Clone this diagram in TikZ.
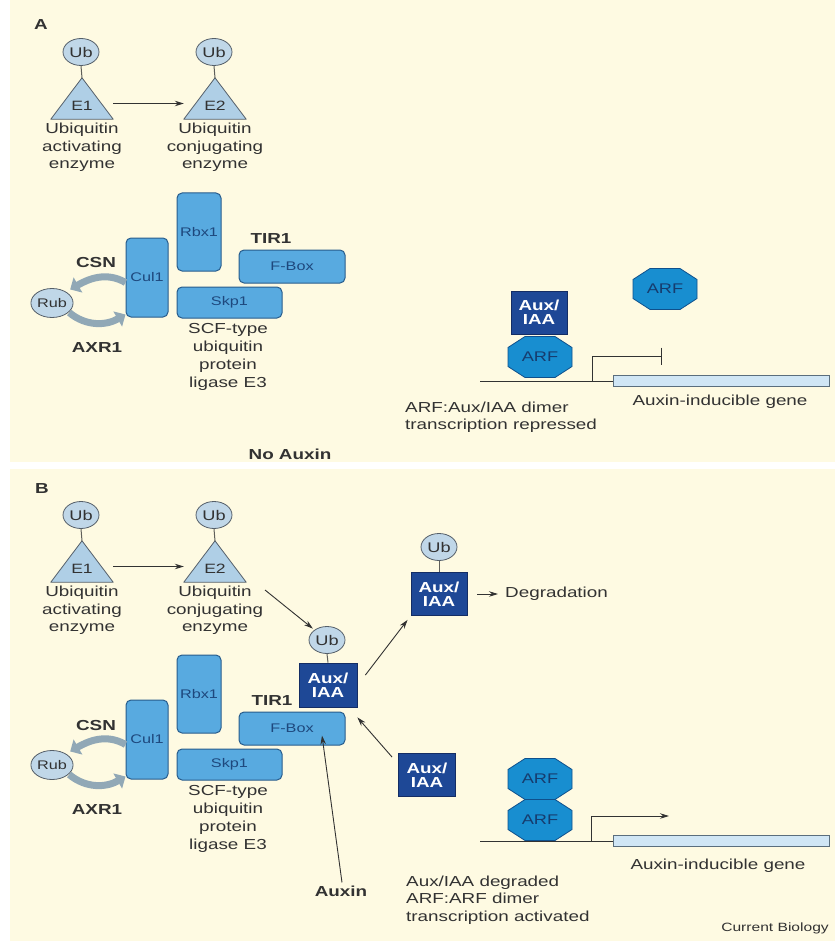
\documentclass[tikz,border=0pt]{standalone}
\usepackage{fontspec}
\setmainfont{Liberation Sans}[FakeStretch=1.3]
\usetikzlibrary{arrows.meta,shapes.geometric}
\definecolor{bg}{RGB}{254,250,226}
\definecolor{txt}{RGB}{50,50,50}
\definecolor{ubfill}{RGB}{192,215,232}
\definecolor{ubline}{RGB}{85,95,105}
\definecolor{trifill}{RGB}{175,207,230}
\definecolor{linkc}{RGB}{95,95,90}
\definecolor{scffill}{RGB}{88,170,224}
\definecolor{scfline}{RGB}{40,92,140}
\definecolor{scftext}{RGB}{30,72,125}
\definecolor{auxfill}{RGB}{30,72,150}
\definecolor{auxline}{RGB}{20,45,100}
\definecolor{arffill}{RGB}{24,142,208}
\definecolor{arfline}{RGB}{15,80,140}
\definecolor{arftextc}{RGB}{22,60,110}
\definecolor{genefill}{RGB}{208,230,245}
\definecolor{geneline}{RGB}{90,110,125}
\definecolor{fatc}{RGB}{145,168,182}
\newcommand{\arfoct}[2]{%
  \draw[arfbody] (#2) ++(-15,20.5) -- ++(30,0) -- ++(17,-11) -- ++(0,-19) -- ++(-17,-11) -- ++(-30,0) -- ++(-17,11) -- ++(0,19) -- cycle;
  \node[arftext] (#1) at (#2) {ARF};}
\tikzset{
 lbl/.style={font=\fontsize{14.5}{17.5}\selectfont, text=txt, align=center, inner sep=1pt},
 blbl/.style={font=\fontsize{14.5}{17.5}\selectfont\bfseries, text=txt, inner sep=1pt},
 ub/.style={ellipse, draw=ubline, fill=ubfill, line width=0.8pt, minimum width=36pt, minimum height=27pt, inner sep=0pt, font=\fontsize{14}{14}\selectfont, text=txt},
 rub/.style={ub, minimum width=35pt, minimum height=29pt, font=\fontsize{12.5}{12.5}\selectfont},
 tri/.style={draw=ubline, fill=trifill, line width=0.8pt, line join=round},
 trilbl/.style={font=\fontsize{13.5}{13.5}\selectfont, text=txt, inner sep=0pt},
 trianchor/.style={minimum width=62pt, minimum height=41pt, inner sep=0pt, draw=none},
 link/.style={draw=linkc, line width=1pt},
 arr/.style={draw=txt, line width=0.9pt, -{Stealth[length=9pt,width=5.5pt]}},
 scf/.style={rectangle, rounded corners=5pt, draw=scfline, fill=scffill, line width=1pt, inner sep=0pt, font=\fontsize{12.5}{12.5}\selectfont, text=scftext},
 aux/.style={rectangle, draw=auxline, fill=auxfill, line width=0.8pt, inner sep=0pt, font=\fontsize{14.5}{14}\selectfont\bfseries, text=white, align=center, minimum width=56pt, minimum height=43pt},
 arfbody/.style={draw=arfline, fill=arffill, line width=0.8pt},
 arftext/.style={font=\fontsize{14}{14}\selectfont, text=arftextc, inner sep=0pt},
 gene/.style={draw=geneline, fill=genefill, line width=0.8pt, inner sep=0pt, minimum width=216pt, minimum height=11pt},
 dna/.style={draw=txt, line width=1pt},
 fat/.style={draw=fatc, line width=7pt, -{Triangle[length=9pt,width=17pt]}},
}
\begin{document}
\begin{tikzpicture}[x=1pt,y=1pt]
\useasboundingbox (0,0) rectangle (835,-941);
\fill[white] (0,0) rectangle (835,-941);
\fill[bg] (10,0) rectangle (835,-462);
\fill[bg] (10,-469) rectangle (835,-941);

% ================= Panel A =================
\node[blbl] (labA) at (41,-25) {A};
\node[trianchor] (triA1) at (82,-98.5) {};
\node[trianchor] (triA2) at (215,-98.5) {};
\draw[tri] (triA1.north) -- (triA1.south east) -- (triA1.south west) -- cycle;
\draw[tri] (triA2.north) -- (triA2.south east) -- (triA2.south west) -- cycle;
\node[trilbl] (e1A) at (82,-106) {E1};
\node[trilbl] (e2A) at (215,-106) {E2};
\node[ub] (ubA1) at (81,-52) {Ub};
\node[ub] (ubA2) at (214,-52) {Ub};
\draw[link] (ubA1.south) -- (triA1.north);
\draw[link] (ubA2.south) -- (triA2.north);
\draw[arr] ([yshift=-5]triA1.east) -- ([yshift=-5]triA2.west);
\node[lbl] (txtA1) at (82,-147.5) {Ubiquitin\\activating\\enzyme};
\node[lbl] (txtA2) at (215,-147.5) {Ubiquitin\\conjugating\\enzyme};

\node[scf, minimum width=44pt, minimum height=78pt] (rbxA) at (199,-232) {Rbx1};
\node[scf, minimum width=42pt, minimum height=79pt] (culA) at (147,-277.5) {Cul1};
\node[scf, minimum width=106pt, minimum height=33pt] (fboxA) at (292,-266.5) {F-Box};
\node[scf, minimum width=105pt, minimum height=31pt] (skpA) at (229.5,-302.5) {Skp1};
\node[blbl] (tirA) at (271,-239) {TIR1};
\node[lbl, font=\fontsize{14.5}{18}\selectfont] (scfA) at (228,-357) {SCF-type\\ubiquitin\\protein\\ligase E3};
\node[blbl] (csnA) at (96,-263) {CSN};
\node[blbl] (axrA) at (97,-348) {AXR1};
\node[rub] (rubA) at (52,-303) {Rub};
\draw[fat] ([yshift=-5]culA.west) to[out=150, in=30] ([shift={(3,3)}]rubA.north east);
\draw[fat] ([shift={(2,1)}]rubA.south east) to[out=-40, in=-150] ([yshift=3]culA.south west);

\node[aux] (auxA) at (539,-312.5) {Aux/\\IAA};
\arfoct{arfA1}{540,-357}
\arfoct{arfA2}{665,-289}
\node[gene] (geneA) at (721,-381) {};
\coordinate (dnaA) at (480,-381);
\coordinate (tssA) at (592,-381);
\coordinate (repA) at (662,-356);
\draw[dna] (dnaA) -- (geneA.west);
\draw[dna, -{Bar[width=17pt]}] (tssA) |- (repA);
\node[lbl] (geneAtxt) at (720,-402) {Auxin-inducible gene};
\node[lbl, align=left, anchor=west] (dimA) at (404,-417) {ARF:Aux/IAA dimer\\transcription repressed};
\node[blbl] (noaux) at (290,-454) {No Auxin};

% ================= Panel B =================
\node[blbl] (labB) at (42,-489) {B};
\node[trianchor] (triB1) at (82,-561.5) {};
\node[trianchor] (triB2) at (215,-561.5) {};
\draw[tri] (triB1.north) -- (triB1.south east) -- (triB1.south west) -- cycle;
\draw[tri] (triB2.north) -- (triB2.south east) -- (triB2.south west) -- cycle;
\node[trilbl] (e1B) at (82,-569) {E1};
\node[trilbl] (e2B) at (215,-569) {E2};
\node[ub] (ubB1) at (81,-515) {Ub};
\node[ub] (ubB2) at (214,-515) {Ub};
\draw[link] (ubB1.south) -- (triB1.north);
\draw[link] (ubB2.south) -- (triB2.north);
\draw[arr] ([yshift=-5]triB1.east) -- ([yshift=-5]triB2.west);
\node[lbl] (txtB1) at (82,-610.5) {Ubiquitin\\activating\\enzyme};
\node[lbl] (txtB2) at (215,-610.5) {Ubiquitin\\conjugating\\enzyme};

\node[scf, minimum width=44pt, minimum height=78pt] (rbxB) at (199,-694) {Rbx1};
\node[scf, minimum width=42pt, minimum height=79pt] (culB) at (147,-739.5) {Cul1};
\node[scf, minimum width=106pt, minimum height=33pt] (fboxB) at (292,-728.5) {F-Box};
\node[scf, minimum width=105pt, minimum height=31pt] (skpB) at (229.5,-764.5) {Skp1};
\node[blbl] (tirB) at (272,-701) {TIR1};
\node[lbl, font=\fontsize{14.5}{18}\selectfont] (scfB) at (228,-819) {SCF-type\\ubiquitin\\protein\\ligase E3};
\node[blbl] (csnB) at (96,-725) {CSN};
\node[blbl] (axrB) at (97,-810) {AXR1};
\node[rub] (rubB) at (52,-765) {Rub};
\draw[fat] ([yshift=-5]culB.west) to[out=150, in=30] ([shift={(3,3)}]rubB.north east);
\draw[fat] ([shift={(2,1)}]rubB.south east) to[out=-40, in=-150] ([yshift=3]culB.south west);

% bound Aux/IAA
\node[ub] (ubB3) at (327,-640) {Ub};
\node[aux, minimum width=58pt, minimum height=44pt] (auxB1) at (328,-685) {Aux/\\IAA};
\draw[link] (ubB3.south) -- (auxB1.north);
\coordinate (e2arr) at (265,-590);
\draw[arr, shorten >=2pt] (e2arr) -- (ubB3);

% degraded Aux/IAA
\node[ub] (ubB4) at (439,-547) {Ub};
\node[aux] (auxB2) at (439,-594) {Aux/\\IAA};
\draw[link] (ubB4.south) -- (auxB2.north);
\draw[arr, shorten >=5pt] ([shift={(8,10)}]auxB1.east) -- (auxB2.south west);
\node[lbl, anchor=west] (degr) at (504,-594) {Degradation};
\draw[arr] ([xshift=10]auxB2.east) -- ([xshift=-6]degr.west);

% free Aux/IAA
\node[aux, minimum width=57pt] (auxB3) at (427,-775) {Aux/\\IAA};
\draw[arr] ([shift={(-6,-4)}]auxB3.north west) -- ([yshift=-10]auxB1.south east);

% Auxin
\node[blbl] (auxin) at (341,-891) {Auxin};
\draw[arr] ([shift={(1,2)}]auxin.north) -- ([shift={(30,-7)}]fboxB.center);

% gene B
\arfoct{arfB1}{540,-779}
\arfoct{arfB2}{540,-820}
\node[gene] (geneB) at (721,-841) {};
\coordinate (dnaB) at (480,-841);
\coordinate (tssB) at (591,-841);
\coordinate (actB) at (669,-816);
\draw[dna] (dnaB) -- (geneB.west);
\draw[dna, -{Stealth[length=9pt,width=5.5pt]}] (tssB) |- (actB);
\node[lbl] (geneBtxt) at (718,-866) {Auxin-inducible gene};
\node[lbl, align=left, anchor=west] (dimB) at (405,-900) {Aux/IAA degraded\\ARF:ARF dimer\\transcription activated};
\node[lbl, font=\fontsize{12}{12}\selectfont, anchor=east] (cb) at (830,-928) {Current Biology};
\end{tikzpicture}
\end{document}
